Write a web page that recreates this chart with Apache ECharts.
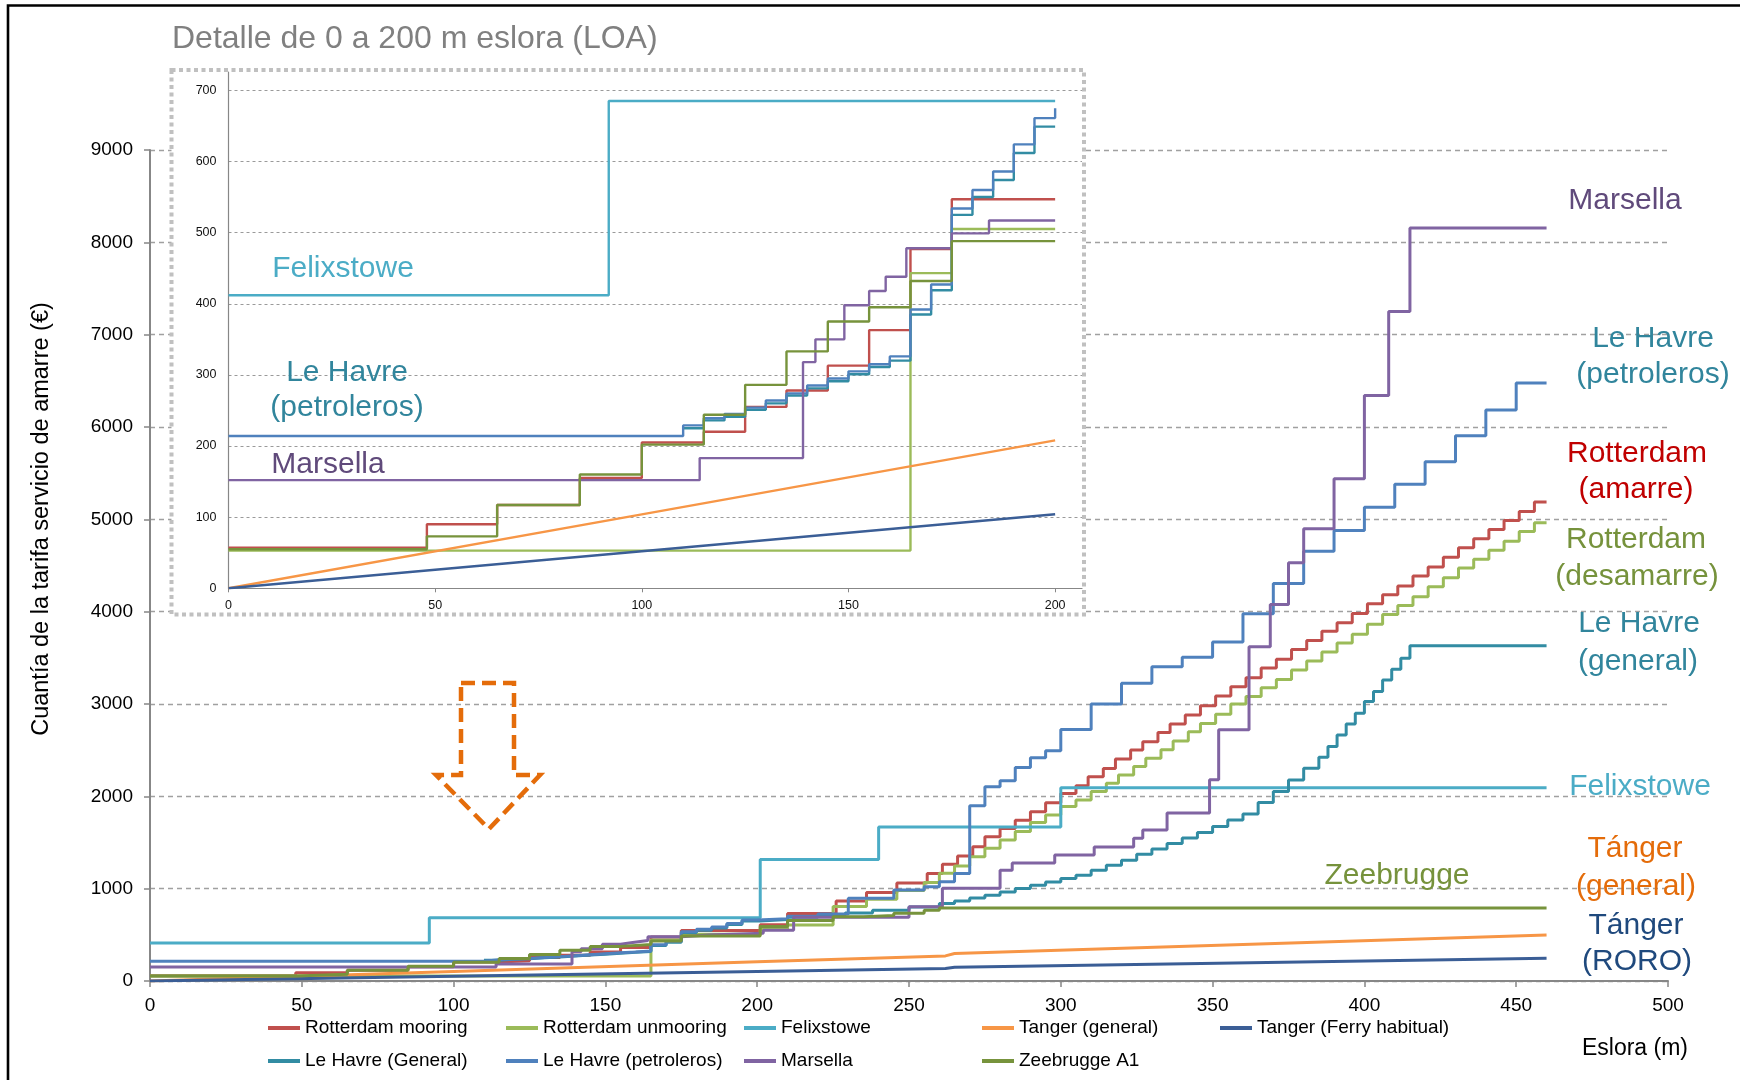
<!DOCTYPE html>
<html><head><meta charset="utf-8">
<script src="https://cdn.jsdelivr.net/npm/echarts@6/dist/echarts.min.js"></script>
<style>html,body{margin:0;padding:0;background:#fff}#c{width:1740px;height:1080px}</style>
</head><body><div id="c"></div>
<script>
// ---------------- DATA ----------------
const seriesNames = ['Rotterdam mooring','Rotterdam unmooring','Felixstowe','Tanger (general)','Tanger (Ferry habitual)',
                     'Le Havre (General)','Le Havre (petroleros)','Marsella','Zeebrugge A1'];
const seriesColors = ['#C0504D','#9BBB59','#4BACC6','#F79646','#3B5E96','#328CA3','#4F81BD','#8064A2','#77933C'];
const seriesStep = [true,true,true,false,false,true,true,true,true];

// step breakpoints [eslora m, €]: value holds from x until the next breakpoint
const rotterdamMooring = [[0,57],[48,90],[65,117],[85,155],[100,205],[115,220],[125,255],[135,278],[145,313],[155,363],[165,477],[175,547],
  [201,610],[210,730],[226,867],[236,958],[246,1062],[256,1164],[261,1265],[266,1355],[271,1453],[275,1561],[280,1652],[285,1742],[290,1832],[295,1930],
  [300,2031],[305,2114],[309,2212],[314,2302],[318,2403],[323,2501],[327,2591],[332,2692],[336,2783],[341,2880],[346,2982],[351,3087],[356,3187],
  [361,3284],[366,3389],[371,3485],[376,3590],[381,3687],[386,3787],[391,3880],[396,3981],[401,4085],[406,4182],[411,4279],[416,4387],[421,4484],
  [426,4588],[431,4693],[436,4789],[441,4890],[446,4987],[451,5084],[456,5188],[460,5188]];
const rotterdamUnmooring = [[0,53],[165,443],[175,505],[201,560],[210,607],[225,806],[236,885],[246,979],[255,1066],[260,1167],[265,1245],[270,1347],
  [275,1437],[280,1528],[285,1618],[290,1716],[295,1798],[300,1889],[305,1961],[310,2052],[315,2142],[319,2232],[324,2322],[328,2413],[333,2505],
  [337,2600],[342,2700],[346,2790],[351,2890],[356,3000],[361,3080],[366,3176],[371,3265],[376,3369],[381,3466],[386,3563],[391,3660],[396,3756],
  [401,3865],[406,3969],[411,4066],[416,4162],[421,4271],[426,4368],[431,4472],[436,4569],[441,4666],[446,4762],[451,4867],[456,4964],[460,4964]];
const felixstowe = [[0,412],[92,685],[201,1315],[240,1668],[300,2092],[460,2092]];
const tangerGeneral = [[0,0],[100,104],[200,208],[262,272],[265,298],[360,396],[460,498]];
const tangerFerry = [[0,0],[100,52],[200,104],[262,136],[265,150],[460,246]];
const leHavreGeneral = [[110,225],[115,236],[120,241],[125,251],[130,260],[135,271],[140,281],[145,291],[150,301],[155,311],[160,320],[165,385],
  [170,419],[175,525],[180,550],[185,574],[190,612],[195,649],[201,665],[210,690],[220,715],[229,737],[238,766],[250,802],[260,838],[265,867],
  [270,900],[275,929],[280,965],[285,1001],[290,1037],[295,1073],[300,1110],[305,1146],[310,1200],[315,1254],[320,1308],[325,1373],[330,1430],
  [335,1490],[340,1550],[345,1607],[350,1672],[355,1744],[360,1809],[365,1932],[370,2051],[375,2178],[380,2304],[385,2423],[388,2539],[391,2665],
  [394,2784],[397,2900],[400,3027],[403,3135],[406,3261],[409,3377],[412,3496],[415,3630],[460,3630]];
const leHavrePetroleros = [[0,214],[110,229],[115,239],[120,245],[125,254],[130,264],[135,274],[140,285],[145,295],[150,305],[155,315],[160,326],
  [165,392],[170,427],[175,534],[180,560],[185,586],[190,624],[195,661],[200,675],[210,700],[220,725],[230,895],[245,985],[255,1020],[260,1075],
  [265,1165],[270,1897],[275,2103],[280,2168],[285,2313],[290,2418],[295,2494],[300,2725],[310,3000],[320,3224],[330,3404],[340,3506],[350,3671],
  [360,3977],[370,4306],[380,4654],[390,4878],[400,5130],[410,5381],[420,5625],[430,5904],[440,6183],[450,6477],[460,6477]];
const marsella = [[0,152],[114,183],[139,318],[142,350],[149,398],[155,418],[159,438],[164,478],[175,499],[184,517],[202,550],[212,690],[250,805],
  [261,1004],[280,1200],[284,1278],[298,1365],[311,1450],[324,1545],[327,1635],[335,1820],[349,2180],[352,2720],[362,3621],[369,4077],[375,4530],
  [380,4898],[390,5440],[400,6341],[408,7251],[415,8156],[460,8156]];
const zeebrugge = [[0,55],[48,73],[65,117],[85,160],[100,202],[115,244],[125,286],[135,333],[145,375],[155,395],[165,432],[175,488],
  [201,590],[210,655],[225,695],[235,710],[245,735],[255,765],[260,790],[460,790]];
const seriesData = [rotterdamMooring,rotterdamUnmooring,felixstowe,tangerGeneral,tangerFerry,leHavreGeneral,leHavrePetroleros,marsella,zeebrugge];

const mainXTicks = [0,50,100,150,200,250,300,350,400,450,500];
const mainYTicks = [0,1000,2000,3000,4000,5000,6000,7000,8000,9000];
const insetXTicks = [0,50,100,150,200];
const insetYTicks = [0,100,200,300,400,500,600,700];

// ---------------- LAYOUT ----------------
const FONT = "'Liberation Sans', Arial, sans-serif";
const insetLimit = 200;
const legendLefts = [268, 506, 744, 982, 1220];
const notes = [
  ['Marsella',1625,201,'#604A7B'],['Le Havre',1653,339,'#31859C'],['(petroleros)',1653,375,'#31859C'],
  ['Rotterdam',1637,454,'#C00000'],['(amarre)',1636,490,'#C00000'],
  ['Rotterdam',1636,540,'#76923C'],['(desamarre)',1637,577,'#76923C'],
  ['Le Havre',1639,624,'#31859C'],['(general)',1638,662,'#31859C'],
  ['Felixstowe',1640,787,'#4BACC6'],['Tánger',1635,849,'#E46C0A'],['(general)',1636,887,'#E46C0A'],
  ['Tánger',1636,926,'#1F497D'],['(RORO)',1637,962,'#1F497D'],['Zeebrugge',1397,876,'#76923C'],
  ['Felixstowe',343,269,'#4BACC6'],['Le Havre',347,373,'#31859C'],['(petroleros)',347,408,'#31859C'],['Marsella',328,465,'#604A7B']
];

function insetPart(arr){
  const out = arr.filter(p => p[0] <= insetLimit);
  const last = out[out.length-1];
  if (last[0] < insetLimit) out.push([insetLimit, last[1]]);
  return out;
}

const series = [];
seriesNames.forEach((n,i)=>{
  series.push({name:n, type:'line', data:seriesData[i], step: seriesStep[i] ? 'end' : false, showSymbol:false, symbol:'none',
    xAxisIndex:0, yAxisIndex:0, z:2, color:seriesColors[i], lineStyle:{width:3, color:seriesColors[i]}, animation:false, silent:true});
});
seriesNames.forEach((n,i)=>{
  series.push({name:n, type:'line', data:insetPart(seriesData[i]), step: seriesStep[i] ? 'end' : false, showSymbol:false, symbol:'none',
    xAxisIndex:1, yAxisIndex:1, z:7, color:seriesColors[i], lineStyle:{width:2.4, color:seriesColors[i]}, animation:false, silent:true});
});

const legendCols = [[0,5],[1,6],[2,7],[3,8],[4]];
const legends = legendCols.map((col,i)=>({
  data: col.map(k=>seriesNames[k]), left: legendLefts[i], top: 1018, orient:'vertical', padding:0,
  itemGap:13, itemWidth:32, itemHeight:4, icon:'rect', selectedMode:false,
  textStyle:{fontSize:19, fontFamily:FONT, color:'#000', lineHeight:20}
}));

const graphics = [
  {type:'rect', z:5, shape:{x:171.5, y:70, width:912.5, height:544.5}, style:{fill:'#fff', stroke:'#C0C0C0', lineWidth:4, lineDash:[4,3.5]}},
  {type:'text', z:10, x:172, y:39, style:{text:'Detalle de 0 a 200 m eslora (LOA)', fill:'#808080', fontSize:32, fontFamily:FONT, align:'left', verticalAlign:'middle'}},
  {type:'text', z:10, x:42, y:519, rotation:Math.PI/2, style:{text:'Cuantía de la tarifa servicio de amarre (€)', fill:'#000', fontSize:23.5, fontFamily:FONT, align:'center', verticalAlign:'middle'}},
  {type:'text', z:10, x:1635, y:1049, style:{text:'Eslora (m)', fill:'#000', fontSize:23, fontFamily:FONT, align:'center', verticalAlign:'middle'}},
  {type:'polygon', z:10, shape:{points:[[461,683],[514,683],[514,775],[540,775],[489,829],[436,775],[461,775]]},
    style:{fill:'none', stroke:'#E46C0A', lineWidth:4.5, lineDash:[14,7]}},
  {type:'rect', z:20, shape:{x:8, y:5.5, width:1800, height:1200}, style:{fill:'none', stroke:'#000', lineWidth:2.6}}
];
notes.forEach(n=>graphics.push({type:'text', z:10, x:n[1], y:n[2],
  style:{text:n[0], fill:n[3], fontSize:30, fontFamily:FONT, align:'center', verticalAlign:'middle'}}));

const axisGray = '#878787';
const plain = v => String(v);
const option = {
  backgroundColor:'#fff',
  animation:false,
  grid:[
    {left:150, top:150, width:1518, height:831, outerBoundsMode:'none'},
    {left:228.5, top:72, width:853.5, height:516.3, outerBoundsMode:'none'}
  ],
  xAxis:[
    {type:'value', gridIndex:0, min:mainXTicks[0], max:mainXTicks[mainXTicks.length-1], interval:mainXTicks[1]-mainXTicks[0],
     axisLine:{show:true, lineStyle:{color:axisGray, width:2}}, axisTick:{show:true, length:6, lineStyle:{color:axisGray, width:1.5}},
     splitLine:{show:false}, axisLabel:{fontSize:19, fontFamily:FONT, color:'#000', margin:15, formatter:plain}},
    {type:'value', gridIndex:1, min:0, max:206.5, interval:50, z:6,
     axisLine:{show:true, lineStyle:{color:axisGray, width:1.2}}, axisTick:{show:true, length:4, customValues:insetXTicks, lineStyle:{color:axisGray, width:1}},
     splitLine:{show:false}, axisLabel:{fontSize:12.5, fontFamily:FONT, color:'#111', margin:11, customValues:insetXTicks, formatter:plain}}
  ],
  yAxis:[
    {type:'value', gridIndex:0, min:mainYTicks[0], max:mainYTicks[mainYTicks.length-1], interval:mainYTicks[1]-mainYTicks[0],
     axisLine:{show:true, lineStyle:{color:axisGray, width:2}}, axisTick:{show:true, length:6, lineStyle:{color:axisGray, width:1.5}},
     splitLine:{show:true, lineStyle:{color:'#A0A0A0', width:1.3, type:[5,4]}},
     axisLabel:{fontSize:19, fontFamily:FONT, color:'#000', margin:17, formatter:plain}},
    {type:'value', gridIndex:1, min:0, max:725.8, interval:100, z:6,
     axisLine:{show:true, lineStyle:{color:axisGray, width:1.2}}, axisTick:{show:false, customValues:insetYTicks},
     splitLine:{show:true, lineStyle:{color:'#9A9A9A', width:1, type:[3,3]}},
     axisLabel:{fontSize:12.5, fontFamily:FONT, color:'#111', margin:12, customValues:insetYTicks, formatter:plain}}
  ],
  legend: legends,
  graphic: {elements: graphics},
  series: series
};
const chart = echarts.init(document.getElementById('c'), null, {renderer:'canvas'});
chart.setOption(option);
</script></body></html>
